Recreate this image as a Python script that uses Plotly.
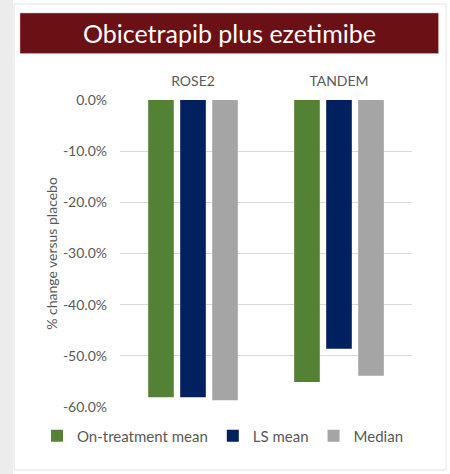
import plotly.graph_objects as go

W, H = 450, 474
ML, MR, MT, MB = 120, 38, 100, 67

categories = ["ROSE2", "TANDEM"]
series_names = ["On-treatment mean", "LS mean", "Median"]
on_treatment = [-58.1, -55.1]
ls_mean = [-58.1, -48.6]
median = [-58.7, -53.9]
series_colors = ["#548235", "#002060", "#A5A5A5"]
y_ticks = [0, -10, -20, -30, -40, -50, -60]
y_tick_labels = [f"{v:.1f}%" for v in y_ticks]
title_text = "Obicetrapib plus ezetimibe"
y_title = "% change versus placebo"

PW = W - ML - MR
PH = H - MT - MB


def px_x(x):
    return (x - ML) / PW


def px_y(y):
    return (H - MB - y) / PH


fig = go.Figure()
for name, vals, col in zip(series_names, [on_treatment, ls_mean, median], series_colors):
    fig.add_trace(go.Bar(x=categories, y=vals, name=name, marker=dict(color=col, line=dict(width=0))))

shapes = [
    dict(type="rect", xref="paper", yref="paper", x0=px_x(0), x1=px_x(13), y0=px_y(H), y1=px_y(0),
         fillcolor="#ececec", line=dict(width=0), layer="below"),
    dict(type="rect", xref="paper", yref="paper", x0=px_x(14), x1=px_x(446), y0=px_y(470), y1=px_y(4),
         fillcolor="rgba(0,0,0,0)", line=dict(color="#e4e4e4", width=1), layer="below"),
    dict(type="rect", xref="paper", yref="paper", x0=px_x(20), x1=px_x(438.5), y0=px_y(53.5), y1=px_y(13),
         fillcolor="#6B1014", line=dict(color="#d9b8b8", width=0.5), layer="above"),
]

fig.update_layout(
    width=W, height=H,
    margin=dict(l=ML, r=MR, t=MT, b=MB, autoexpand=False),
    paper_bgcolor="white", plot_bgcolor="white",
    font=dict(family="Lato, Open Sans, sans-serif", color="#595959", size=14),
    barmode="group", bargap=0.342, bargroupgap=0.2,
    shapes=shapes,
    annotations=[dict(text=title_text, xref="paper", yref="paper", x=px_x(229), y=px_y(33.5),
                      xanchor="center", yanchor="middle", showarrow=False,
                      font=dict(family="Lato, Open Sans, sans-serif", size=25, color="white"))],
    showlegend=True,
    legend=dict(orientation="h", xref="paper", yref="paper", x=px_x(37), xanchor="left",
                y=px_y(436), yanchor="middle", font=dict(size=15, color="#595959"),
                traceorder="normal", bgcolor="rgba(0,0,0,0)", itemwidth=30,
                tracegroupgap=0),
    xaxis=dict(side="top", showline=False, ticks="", showgrid=False, zeroline=False,
               tickfont=dict(size=14, color="#595959"), ticklabelstandoff=10),
    yaxis=dict(range=[-60, 0], tickvals=y_ticks, ticktext=y_tick_labels,
               showgrid=True, gridcolor="#d9d9d9", gridwidth=1, zeroline=False, showline=False,
               ticks="", tickfont=dict(size=14, color="#595959"), ticklabelstandoff=12,
               title=dict(text=y_title, font=dict(size=14, color="#595959"), standoff=2)),
)

fig.write_html("out.html", config={"displayModeBar": False},
               post_script="document.body.style.margin='0';")
